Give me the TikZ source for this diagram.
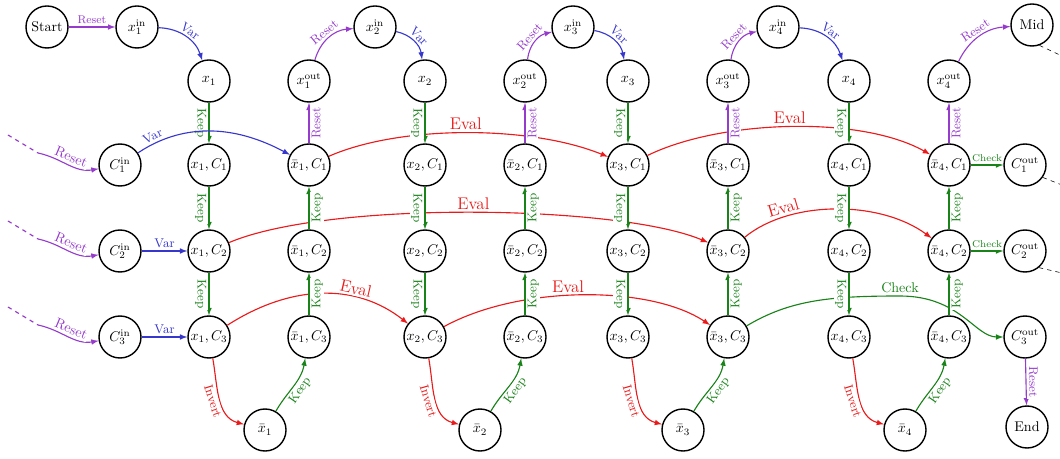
\documentclass[tikz,border=0pt]{standalone}
\definecolor{purp}{RGB}{150,60,205}
\definecolor{blu}{RGB}{55,55,205}
\definecolor{grn}{RGB}{25,130,25}
\definecolor{rd}{RGB}{235,25,25}
\begin{document}
\begin{tikzpicture}[x=0.025cm,y=0.025cm,>=latex,
vtx/.style={draw,circle,line width=1pt,minimum size=1.05cm,inner sep=0pt},
lab/.style={font=\small,inner sep=1pt,outer sep=1pt,fill=white},
kd/.style={midway,rotate=-90,anchor=north},
ku/.style={midway,rotate=90,anchor=north},
resetc/.style={purp,thick,->},
varc/.style={blu,thick,->},
keepc/.style={grn,thick,->},
evl/.style={rd,thick,->}]
\useasboundingbox(0,0)rectangle(1060,-459);
\node[vtx](Start)at(47,-27){Start};
\node[vtx](Mid)at(1032,-25){Mid};
\node[vtx](End)at(1027,-427){End};
\foreach \i/\xa/\xb/\xp/\xq in {1/209/309/137/265,2/425/525/375/480,3/628/728/573/683,4/849/949/778/905}{
\node[vtx](xin\i)at(\xp,-27){$x_\i^{\mathrm{in}}$};
\node[vtx](x\i)at(\xa,-81){$x_\i$};
\node[vtx](xout\i)at(\xb,-81){$x_\i^{\mathrm{out}}$};
\node[vtx](nx\i)at(\xq,-430){$\bar{x}_\i$};
\foreach \j/\y in {1/165,2/251,3/337}{
\node[vtx](x\i c\j)at(\xa,-\y){$x_\i,C_\j$};
\node[vtx](nx\i c\j)at(\xb,-\y){$\bar{x}_\i,C_\j$};}}
\foreach \j/\y in {1/165,2/251,3/337}{
\node[vtx](C\j in)at(120,-\y){$C_\j^{\mathrm{in}}$};
\node[vtx](C\j out)at(1025,-\y){$C_\j^{\mathrm{out}}$};}
% clause checks
\draw[evl](nx1c1)..controls(400,-125)and(530,-125)..(x3c1)node[lab,font=\large,pos=0.5,above]{Eval};
\draw[evl](x1c2)..controls(330,-200)and(620,-205)..(nx3c2)node[lab,font=\large,pos=0.5,above]{Eval};
\draw[evl](x1c3)..controls(290,-285)and(355,-282)..(x2c3)node[lab,font=\large,pos=0.68,above,sloped]{Eval};
\draw[evl](x2c3)..controls(520,-285)and(650,-285)..(nx3c3)node[lab,font=\large,pos=0.45,above]{Eval};
\draw[evl](x3c1)..controls(720,-120)and(860,-115)..(nx4c1)node[lab,font=\large,pos=0.5,above]{Eval};
\draw[evl](nx3c2)..controls(790,-200)and(880,-200)..(nx4c2)node[lab,font=\large,pos=0.25,above,sloped]{Eval};
\draw[keepc](nx4c1)--node[lab,above,font=\scriptsize]{Check}(C1out);
\draw[keepc](nx4c2)--node[lab,above,font=\scriptsize]{Check}(C2out);
\draw[keepc](nx3c3)..controls(790,-300)and(830,-296)..(900,-296)node[lab,above,font=\normalsize]{Check}..controls(960,-296)and(975,-337)..(C3out);
% variable gadgets
\foreach \i in {1,...,4}{
\draw[varc](xin\i)to[bend left=35]node[lab,midway,above,sloped]{Var}(x\i);
\draw[keepc](x\i)--node[lab,kd]{Keep}(x\i c1);
\draw[keepc](x\i c1)--node[lab,kd]{Keep}(x\i c2);
\draw[keepc](x\i c2)--node[lab,kd]{Keep}(x\i c3);
\draw[evl](x\i c3)to[out=-80,in=165]node[lab,midway,below,sloped]{Invert}(nx\i);
\draw[keepc](nx\i)to[out=60,in=-100]node[lab,midway,below,sloped]{Keep}(nx\i c3);
\draw[keepc](nx\i c3)--node[lab,ku]{Keep}(nx\i c2);
\draw[keepc](nx\i c2)--node[lab,ku]{Keep}(nx\i c1);
\draw[resetc](nx\i c1)--node[lab,ku]{Reset}(xout\i);}
\foreach \i/\k in {1/2,2/3,3/4}{
\draw[resetc](xout\i)to[bend left=35]node[lab,midway,above,sloped]{Reset}(xin\k);}
\draw[resetc](xout4)to[bend left=30]node[lab,midway,above,sloped]{Reset}(Mid);
\draw[resetc](Start)--node[lab,above,font=\footnotesize]{Reset}(xin1);
\draw[resetc](C3out)--node[lab,midway,rotate=-90,anchor=south]{Reset}(End);
% clause inputs
\draw[varc](C1in)..controls(175,-128)and(225,-120)..(nx1c1)node[lab,pos=0.15,above,sloped]{Var};
\draw[varc](C2in)--node[lab,above]{Var}(x1c2);
\draw[varc](C3in)--node[lab,above]{Var}(x1c3);
\foreach \j/\y in {1/165,2/251,3/337}{
\coordinate(l\j)at(8,-\y+30);
\coordinate(m\j)at(38,-\y+12);
\draw[resetc,-,dashed](l\j)--(m\j);
\draw[resetc](m\j)to[out=-12,in=190]node[lab,above,sloped,font=\normalsize]{Reset}(C\j in);}
\coordinate(r0)at(1062,-56);
\coordinate(r1)at(1062,-185);
\coordinate(r2)at(1062,-273);
\draw[dashed](Mid.-70)--(r0);
\draw[dashed](C1out.-35)--(r1);
\draw[dashed](C2out.-50)--(r2);
\end{tikzpicture}
\end{document}
